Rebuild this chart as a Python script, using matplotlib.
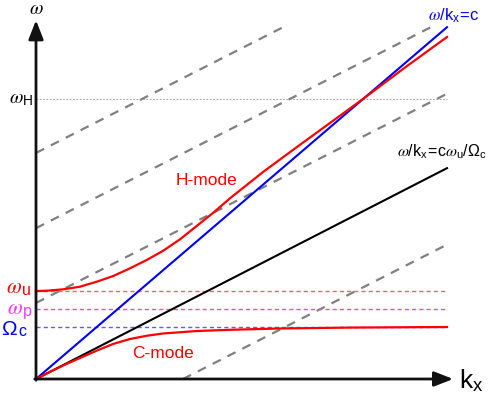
import numpy as np
import matplotlib; matplotlib.use("Agg")
import matplotlib.pyplot as plt

plt.rcParams["font.family"] = ["Liberation Sans", "DejaVu Sans"]
plt.rcParams["mathtext.fontset"] = "custom"
plt.rcParams["mathtext.rm"] = "Liberation Sans"
plt.rcParams["mathtext.it"] = "STIXGeneral:italic"
plt.rcParams["lines.scale_dashes"] = False

# characteristic frequencies (same units as kx, axes are isotropic)
omega_c = 0.1265   # cyclotron
omega_p = 0.170    # plasma
omega_u = 0.2141   # upper hybrid
omega_H = 0.681    # H-mode meets light line

c_light = 0.856          # slope of omega/kx = c
c_slow = 0.513           # slope of omega/kx = c*wu/Wc
dash_slope = 0.509       # grey dashed family
dash_intercepts = [-0.182, 0.185, 0.367, 0.550]

# H-mode dispersion
h_kx = [0.0, 0.026, 0.0665, 0.107, 0.1477, 0.188, 0.2287, 0.2693, 0.3097, 0.3504,
        0.391, 0.4314, 0.472, 0.5523, 0.635, 0.7153, 0.7956, 0.8978, 1.0]
h_w = [0.2141, 0.2148, 0.2182, 0.2246, 0.2367, 0.2506, 0.2693, 0.2895, 0.3122, 0.3399,
       0.3723, 0.4046, 0.4397, 0.5036, 0.5645, 0.6229, 0.6813, 0.7579, 0.8321]

# C-mode dispersion
c_kx = [0.0, 0.034, 0.0706, 0.107, 0.1484, 0.1873, 0.2287, 0.270, 0.309, 0.3917,
        0.472, 0.5937, 0.764, 1.0]
c_w = [0.0, 0.0173, 0.0350, 0.0511, 0.0693, 0.0852, 0.0973, 0.1053, 0.1107, 0.1168,
       0.1197, 0.1229, 0.1251, 0.1265]

KMAX = 1.0
WTOP = 0.856

fig = plt.figure(figsize=(4.89, 4.03), dpi=100)
ax = fig.add_axes([0, 0, 1, 1])
ax.set_xlim(-36 / 411, 453 / 411)
ax.set_ylim(-24 / 411, 379 / 411)
ax.axis("off")

# grey dashed lines, clipped to the drawing area
for b in dash_intercepts:
    k0 = max(0.0, -b / dash_slope)
    k1 = min(KMAX, (WTOP - b) / dash_slope)
    k = np.array([k0, k1])
    ax.plot(k, b + dash_slope * k, color="#808080", lw=1.6, dashes=(6.5, 5.5))

# horizontal reference levels
ax.plot([0, KMAX], [omega_H, omega_H], color="#909090", lw=0.6, dashes=(1.2, 1.2))
ax.plot([0, KMAX], [omega_u, omega_u], color="#ff5f5f", lw=1.0, dashes=(3, 2.2))
ax.plot([0, KMAX], [omega_p, omega_p], color="#ff3cff", lw=1.0, dashes=(3, 2.2))
ax.plot([0, KMAX], [omega_c, omega_c], color="#5f5fff", lw=1.0, dashes=(3, 2.2))

k = np.array([0, KMAX])
ax.plot(k, c_light * k, color="#0000ff", lw=1.5)
ax.plot(k, c_slow * k, color="black", lw=1.5)

ax.plot(h_kx, h_w, color="#ff0000", lw=1.6)
ax.plot(c_kx, c_w, color="#ff0000", lw=1.6)

# axes with arrows
arrow = dict(arrowstyle="-|>,head_length=1.15,head_width=0.45", lw=2, color="#111111",
             shrinkA=0, shrinkB=0, mutation_scale=10)
ax.annotate("", xy=(0, 0.873), xytext=(0, -0.003), arrowprops=arrow)
ax.annotate("", xy=(1.015, 0), xytext=(-0.003, 0), arrowprops=arrow)

ax.text(0, 0.898, r"$\omega$", fontsize=14, ha="center", va="center")
ax.text(1.03, -0.004, r"$\mathrm{k}_\mathrm{x}$", fontsize=19, ha="left", va="center")

ax.text(-0.008, omega_H, r"$\omega_\mathrm{H}$", fontsize=14, ha="right", va="center")

# left labels: symbol plus a near full-size subscript
ax.text(-0.034, 0.2092, r"$\omega$", fontsize=15.5, ha="right", va="baseline", color="#ff0000")
ax.text(-0.033, 0.2044, "u", fontsize=11.5, ha="left", va="baseline", color="#ff0000")
ax.text(-0.032, 0.1582, r"$\omega$", fontsize=15.5, ha="right", va="baseline", color="#ff33ff")
ax.text(-0.031, 0.1533, "p", fontsize=11.5, ha="left", va="baseline", color="#ff33ff")
ax.text(-0.044, 0.1071, r"$\Omega$", fontsize=15, ha="right", va="baseline", color="#0000ff")
ax.text(-0.043, 0.1046, "c", fontsize=11.5, ha="left", va="baseline", color="#0000ff")

ax.text(0.416, 0.482, "H-mode", fontsize=12.5, ha="center", va="center", color="#ff0000")
ax.text(0.309, 0.063, "C-mode", fontsize=12.5, ha="center", va="center", color="#ff0000")

ax.text(1.080, 0.883, r"$\omega/\mathrm{k}_\mathrm{x}\!=\!\mathrm{c}$", fontsize=12,
        ha="right", va="center", color="#0000ff")
ax.text(1.097, 0.552, r"$\omega/\mathrm{k}_\mathrm{x}\!=\!\mathrm{c}\omega_\mathrm{u}/\Omega_\mathrm{c}$",
        fontsize=11.5, ha="right", va="center", color="black")

fig.savefig("out.png", dpi=100)
